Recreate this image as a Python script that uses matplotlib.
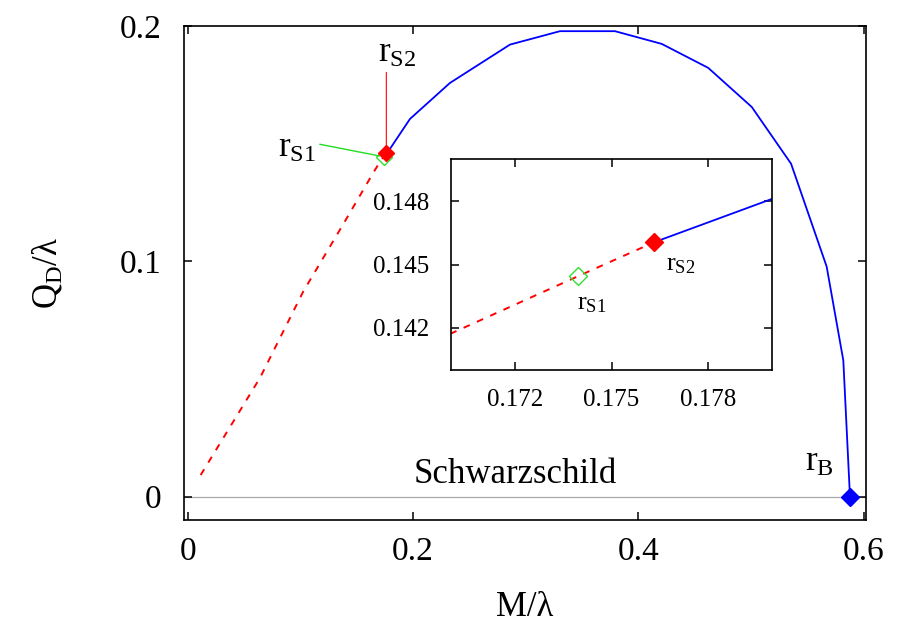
import matplotlib
matplotlib.use('Agg')
import matplotlib.pyplot as plt

plt.rcParams['font.family'] = ['Liberation Serif', 'DejaVu Serif']
plt.rcParams['mathtext.fontset'] = 'custom'
plt.rcParams['mathtext.rm'] = 'Liberation Serif'
plt.rcParams['mathtext.it'] = 'Liberation Serif:italic'

# solid branch (blue): M/lambda, Q_D/lambda
m_blue = [0.17632, 0.1800, 0.1973, 0.2328, 0.2861, 0.3305, 0.3793, 0.4208,
          0.4621, 0.5007, 0.5356, 0.5672, 0.5820, 0.5879]
q_blue = [0.14605, 0.14811, 0.1605, 0.1758, 0.1921, 0.1978, 0.1978, 0.1924,
          0.1822, 0.1656, 0.1415, 0.0978, 0.0579, 0.0]
# dashed branch (red)
m_red = [0.0115, 0.0642, 0.1026, 0.1381, 0.1648, 0.1700, 0.17395, 0.17632]
q_red = [0.0092, 0.0505, 0.0872, 0.1158, 0.1377, 0.14173, 0.14444, 0.14605]

rS1 = (0.17395, 0.14444)
rS2 = (0.17632, 0.14605)
rB = (0.5879, 0.0)

main_xticks = [0, 0.2, 0.4, 0.6]
main_xlabels = ['0', '0.2', '0.4', '0.6']
main_yticks = [0, 0.1, 0.2]
main_ylabels = ['0', '0.1', '0.2']
ins_xticks = [0.172, 0.175, 0.178]
ins_xlabels = ['0.172', '0.175', '0.178']
ins_yticks = [0.142, 0.145, 0.148]
ins_ylabels = ['0.142', '0.145', '0.148']

fig = plt.figure(figsize=(9.04, 6.25), dpi=100)

ax = fig.add_axes([0.2035, 0.168, 0.7548, 0.7904])
ax.axhline(0, color='#aaaaaa', lw=0.9, zorder=1)
ax.plot(m_red, q_red, color='red', lw=1.4, ls=(0, (3.5, 4)), zorder=2)
ax.plot(m_blue, q_blue, color='blue', lw=1.3, zorder=2)
ax.plot(*rS1, marker='D', mfc='none', mec='#33dd33', ms=8, mew=1, zorder=3)
ax.plot(*rS2, marker='D', color='red', ms=8, zorder=4)
ax.plot(*rB, marker='D', color='blue', ms=9, zorder=4, clip_on=False)

# label lines
ax.annotate('', xy=rS2, xytext=(0, 58), textcoords='offset points',
            arrowprops=dict(arrowstyle='-', color='red', lw=0.8, shrinkA=0, shrinkB=0))
ax.annotate('', xy=rS1, xytext=(-46, 9), textcoords='offset points',
            arrowprops=dict(arrowstyle='-', color='#22dd22', lw=1.0, shrinkA=0, shrinkB=3))
ax.annotate(r'$\mathregular{r_{S2}}$', xy=rS2, xytext=(8, 72), textcoords='offset points',
            ha='center', va='center', fontsize=25)
ax.annotate(r'$\mathregular{r_{S1}}$', xy=rS1, xytext=(-49, 6), textcoords='offset points',
            ha='right', va='center', fontsize=25)
ax.annotate(r'$\mathregular{r_{B}}$', xy=rB, xytext=(-22, 25), textcoords='offset points',
            ha='center', va='center', fontsize=25)
ax.text(0.2906, 0.0057, 'Schwarzschild', ha='center', va='baseline', fontsize=25)

ax.set_xlim(-0.0033, 0.6024)
ax.set_ylim(-0.0099, 0.1995)
ax.set_xticks(main_xticks)
ax.set_xticklabels(main_xlabels)
ax.set_yticks(main_yticks)
ax.set_yticklabels(main_ylabels)
ax.tick_params(direction='in', top=True, right=True, length=6, width=1.1, labelsize=24)
ax.tick_params(axis='x', pad=12)
ax.tick_params(axis='y', pad=16)
for s in ax.spines.values():
    s.set_linewidth(1.2)
ax.set_xlabel('M/λ', fontsize=25, labelpad=17)
ax.set_ylabel(r'$\mathregular{Q_D/λ}$', fontsize=25, labelpad=40)

# inset
ax2 = fig.add_axes([0.4989, 0.408, 0.3551, 0.3376])
ax2.plot(m_red, q_red, color='red', lw=1.4, ls=(0, (3.5, 4)))
ax2.plot(m_blue, q_blue, color='blue', lw=1.3)
ax2.plot(*rS1, marker='D', mfc='none', mec='#33dd33', ms=9, mew=1, zorder=3)
ax2.plot(*rS2, marker='D', color='red', ms=9, zorder=4)
ax2.annotate(r'$\mathregular{r_{S1}}$', xy=rS1, xytext=(10, -20), textcoords='offset points',
             ha='center', va='center', fontsize=19)
ax2.annotate(r'$\mathregular{r_{S2}}$', xy=rS2, xytext=(19, -16), textcoords='offset points',
             ha='center', va='center', fontsize=19)
ax2.set_xlim(0.170, 0.180)
ax2.set_ylim(0.140, 0.150)
ax2.set_xticks(ins_xticks)
ax2.set_xticklabels(ins_xlabels)
ax2.set_yticks(ins_yticks)
ax2.set_yticklabels(ins_ylabels)
ax2.tick_params(direction='in', top=True, right=True, length=6, width=1.1, labelsize=18)
ax2.tick_params(axis='x', pad=14)
ax2.tick_params(axis='y', pad=16)
for s in ax2.spines.values():
    s.set_linewidth(1.2)

fig.savefig('out.png', dpi=100)
